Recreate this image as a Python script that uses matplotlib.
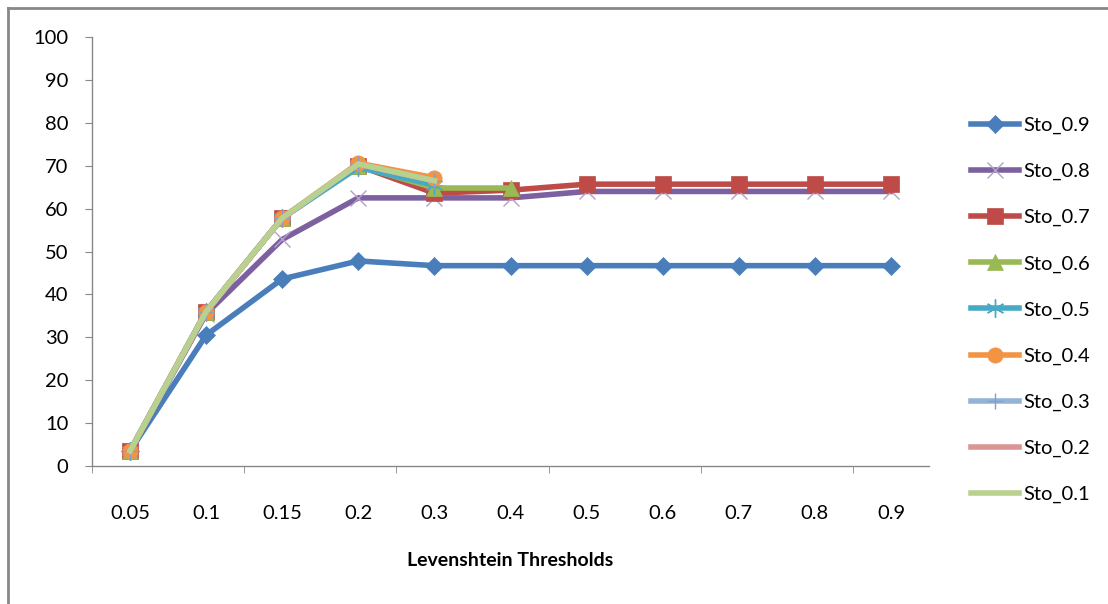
import matplotlib.pyplot as plt
from matplotlib.lines import Line2D

plt.rcParams['font.family'] = ['Lato', 'DejaVu Sans']

# data
thresholds = ['0.05', '0.1', '0.15', '0.2', '0.3', '0.4', '0.5', '0.6', '0.7', '0.8', '0.9']
names = ['Sto_0.9', 'Sto_0.8', 'Sto_0.7', 'Sto_0.6', 'Sto_0.5',
         'Sto_0.4', 'Sto_0.3', 'Sto_0.2', 'Sto_0.1']

sto_09 = [3.5, 30.5, 43.6, 47.8, 46.7, 46.7, 46.7, 46.7, 46.7, 46.7, 46.7]
sto_08 = [3.5, 35.5, 52.8, 62.5, 62.5, 62.5, 64.0, 64.0, 64.0, 64.0, 64.0]
sto_07 = [3.5, 36.0, 57.8, 70.0, 63.6, 64.3, 65.7, 65.7, 65.7, 65.7, 65.7]
sto_06 = [3.5, 36.0, 57.8, 70.0, 64.8, 64.8]
sto_05 = [3.5, 36.0, 57.8, 69.6, 65.5]
sto_04 = [3.5, 36.0, 57.8, 70.6, 67.2]
sto_03 = [3.5, 36.0, 57.8, 70.4, 66.5]
sto_02 = [3.5, 36.0, 57.8, 70.4, 66.5]
sto_01 = [3.5, 36.0, 57.8, 70.4, 66.5]
series = [sto_09, sto_08, sto_07, sto_06, sto_05, sto_04, sto_03, sto_02, sto_01]

colors = ['#4A7EBB', '#7D60A0', '#BE4B48', '#98B954', '#46AAC5',
          '#F39444', '#95B3D7', '#D99694', '#B9D18F']
markers = ['D', 'x', 's', '^', (6, 2, 0), 'o', '+', None, None]
msizes = [9, 12, 11, 11, 13, 11, 12, 0, 0]
mcolors = ['#4A7EBB', '#B3A2C7', '#BE4B48', '#98B954', '#46AAC5',
           '#F39444', '#7F9FCF', '#D99694', '#B9D18F']

fig = plt.figure(figsize=(11.08, 6.04), dpi=100)
ax = fig.add_axes([0.083, 0.2285, 0.7555, 0.7102])

handles = []
for vals, name, c, m, ms, mc in zip(series, names, colors, markers, msizes, mcolors):
    x = list(range(len(vals)))
    mk = m if m else 'None'
    thin = m in ('x', '+') or isinstance(m, tuple)
    ax.plot(x, vals, color=c, lw=4, marker=mk, markersize=ms,
            markerfacecolor=mc, markeredgecolor=mc,
            markeredgewidth=1.0 if thin else 0.5, solid_joinstyle='round')
    handles.append(Line2D([], [], color=c, lw=4, marker=mk, markersize=ms,
                          markerfacecolor=mc, markeredgecolor=mc,
                          markeredgewidth=1.0 if thin else 0.5))

ax.set_xlim(-0.5, 10.5)
ax.set_ylim(0, 100)
ax.set_yticks(range(0, 101, 10))
ax.set_xticks(range(len(thresholds)))
ax.set_xticklabels(thresholds)
ax.set_xticks([-0.5 + 2 * k for k in range(6)], minor=True)
ax.tick_params(axis='x', which='major', length=0, pad=28, labelsize=14.5)
ax.tick_params(axis='x', which='minor', length=5, color='#888888', direction='out')
ax.tick_params(axis='y', length=5, color='#888888', pad=12, labelsize=14.5)
for s in ['top', 'right']:
    ax.spines[s].set_visible(False)
for s in ['left', 'bottom']:
    ax.spines[s].set_color('#888888')
    ax.spines[s].set_linewidth(1)

ax.set_xlabel('Levenshtein Thresholds', fontsize=14, fontweight='bold', labelpad=22)

fig.legend(handles, names, loc='upper left', bbox_to_anchor=(0.869, 0.82),
           frameon=False, fontsize=14.5, handlelength=2.4, handletextpad=0.2,
           labelspacing=1.43, borderaxespad=0)

# outer frame: top and left edges only
fig.add_artist(Line2D([8 / 1108, 1], [1 - 8 / 604] * 2, color='#888888', lw=2,
                      transform=fig.transFigure))
fig.add_artist(Line2D([8 / 1108] * 2, [0, 1 - 8 / 604], color='#888888', lw=2,
                      transform=fig.transFigure))

fig.savefig('out.png', dpi=100)
